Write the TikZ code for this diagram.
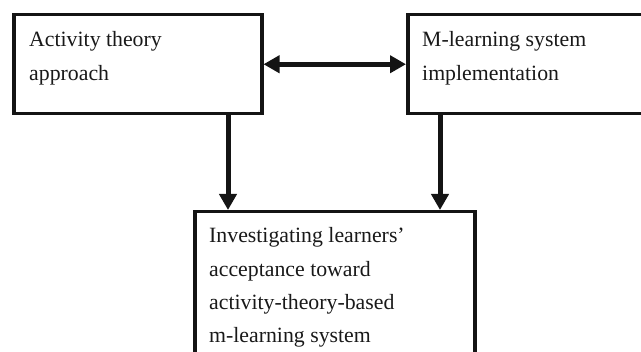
\documentclass[tikz,border=0pt]{standalone}
\usepackage{fontspec}
\setmainfont{Liberation Serif}
\usetikzlibrary{arrows.meta,calc}
\tikzset{
  box/.style={draw=black!92, line width=3.5pt, rectangle, inner sep=0pt, anchor=north west},
  label/.style={anchor=base west, inner sep=0pt, text=black!90, font=\fontsize{21.8}{33.3}\selectfont},
  link/.style={draw=black!92, line width=5pt, -{Triangle[length=16pt,width=17pt]}},
  twoway/.style={draw=black!92, line width=5pt, {Triangle[length=16pt,width=17pt]}-{Triangle[length=16pt,width=17pt]}}
}
\begin{document}
\begin{tikzpicture}[x=1pt,y=-1pt]
  \useasboundingbox (0,0) rectangle (641,352);
  \clip (0,0) rectangle (641,352);
  % the three boxes (right and lower ones run past the page edge)
  \node[box, minimum width=248pt, minimum height=99pt] (act) at (12,13) {};
  \node[box, minimum width=260pt, minimum height=99pt] (impl) at (406,13) {};
  \node[box, minimum width=280pt, minimum height=170pt] (inv) at (193,210) {};
  % their texts
  \node[label] (tact) at (29,47) {\parbox[t]{220pt}{Activity theory\\approach}};
  \node[label] (timpl) at (422,47) {\parbox[t]{220pt}{M-learning system\\implementation}};
  \node[label] (tinv) at (209,243) {\parbox[t]{260pt}{Investigating learners’\\acceptance toward\\activity-theory-based\\m-learning system}};
  % columns of the downward arrows
  \coordinate (cl) at (228,0);
  \coordinate (cr) at (440,0);
  % connectors
  \draw[twoway] (act.east) -- (impl.west);
  \draw[link] (act.south -| cl) -- (inv.north -| cl);
  \draw[link] (impl.south -| cr) -- (inv.north -| cr);
\end{tikzpicture}
\end{document}
